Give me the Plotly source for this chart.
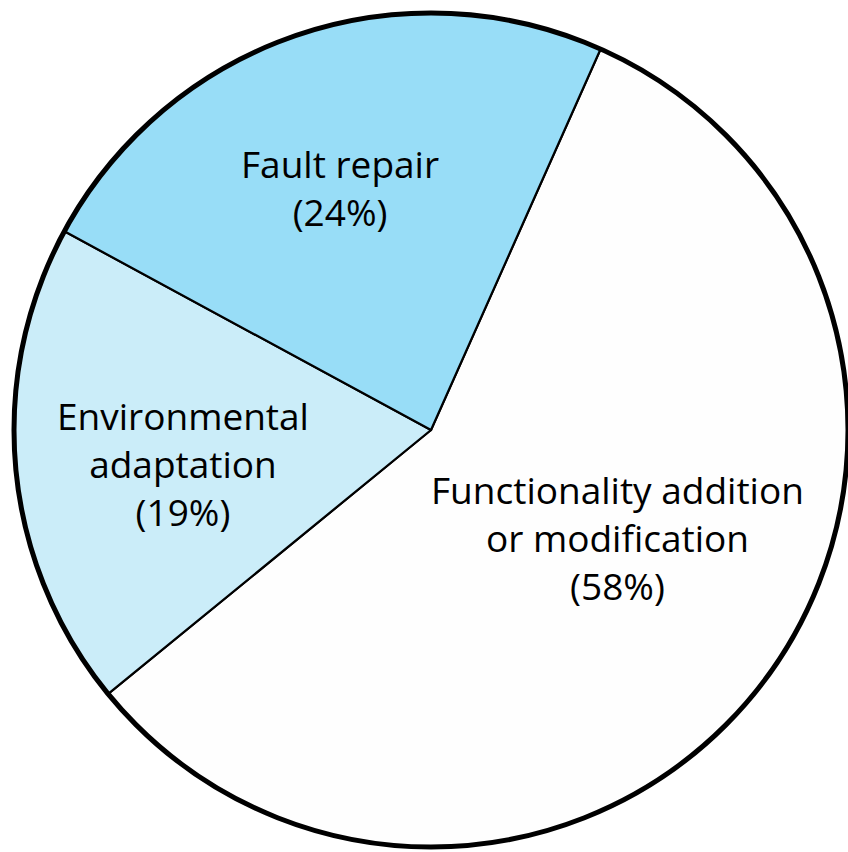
import plotly.graph_objects as go

categories = ["Functionality addition or modification", "Environmental adaptation", "Fault repair"]
label_lines = [["Functionality addition", "or modification"], ["Environmental", "adaptation"], ["Fault repair"]]
shares = [58, 19, 24]
colors = ["#FEFEFE", "#CBEDF9", "#98DDF7"]

W, H = 848, 852
# pie placement (pixels)
cx, cy, r = 431, 430, 417

fig = go.Figure(go.Pie(
    labels=categories,
    values=shares,
    sort=False,
    direction="clockwise",
    rotation=24,
    marker=dict(colors=colors, line=dict(color="#000000", width=2.2)),
    textinfo="none",
    hoverinfo="label+percent",
    showlegend=False,
    domain=dict(x=[(cx - r) / W, min(1, (cx + r) / W)],
                y=[1 - (cy + r) / H, 1 - (cy - r) / H]),
))

# outer circle outline
fig.add_shape(type="circle", xref="paper", yref="paper",
              x0=(cx - r) / W, x1=(cx + r) / W,
              y0=1 - (cy + r) / H, y1=1 - (cy - r) / H,
              line=dict(color="#000000", width=5), fillcolor="rgba(0,0,0,0)")

label_pos = [(617, 537), (183, 463), (340, 187)]
for lines, v, (px, py) in zip(label_lines, shares, label_pos):
    fig.add_annotation(
        text="<br>".join(lines + [f"({v}%)"]),
        x=px / W, y=1 - py / H, xref="paper", yref="paper",
        xanchor="center", yanchor="middle", showarrow=False,
        font=dict(family="Open Sans", size=37, color="#000000"),
    )

fig.update_layout(width=W, height=H, margin=dict(l=0, r=0, t=0, b=0),
                  paper_bgcolor="#FFFFFF", plot_bgcolor="#FFFFFF")
fig.write_html("out.html", config={"displayModeBar": False},
               post_script="document.body.style.margin='0';")
